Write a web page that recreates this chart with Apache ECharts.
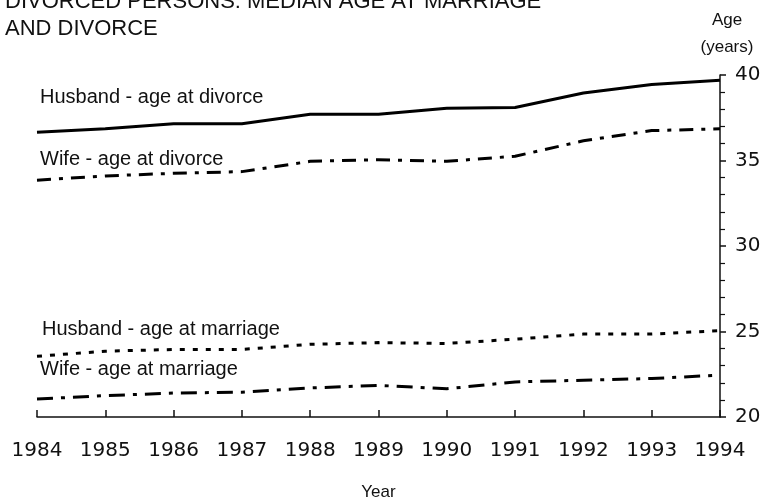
<!DOCTYPE html>
<html>
<head>
<meta charset="utf-8">
<script src="https://cdn.jsdelivr.net/npm/echarts@6/dist/echarts.min.js"></script>
<style>
  html, body { margin: 0; padding: 0; background: #fff; }
  #chart { width: 760px; height: 500px; }
</style>
</head>
<body>
<div id="chart"></div>
<script>
  var years = ['1984', '1985', '1986', '1987', '1988', '1989', '1990', '1991', '1992', '1993', '1994'];
  var husbandDivorce = [36.65, 36.85, 37.15, 37.15, 37.7, 37.7, 38.05, 38.1, 38.95, 39.45, 39.7];
  var wifeDivorce = [33.85, 34.1, 34.25, 34.35, 34.95, 35.05, 34.95, 35.25, 36.15, 36.75, 36.85];
  var husbandMarriage = [23.55, 23.85, 23.95, 23.95, 24.25, 24.35, 24.3, 24.55, 24.85, 24.85, 25.05];
  var wifeMarriage = [21.05, 21.25, 21.4, 21.45, 21.7, 21.85, 21.65, 22.05, 22.15, 22.25, 22.45];
  var seriesNames = ['Husband - age at divorce', 'Wife - age at divorce', 'Husband - age at marriage', 'Wife - age at marriage'];

  var font = '"Liberation Sans", Arial, sans-serif';
  var chart = echarts.init(document.getElementById('chart'));

  chart.setOption({
    animation: false,
    backgroundColor: '#fff',
    title: {
      text: 'DIVORCED PERSONS: MEDIAN AGE AT MARRIAGE\nAND DIVORCE',
      left: 0,
      top: -17,
      textStyle: { fontFamily: font, fontSize: 22, fontWeight: 'normal', color: '#111', lineHeight: 27 }
    },
    grid: { left: 37, right: 40, top: 75, bottom: 83, containLabel: false, outerBoundsMode: 'none' },
    xAxis: {
      type: 'category',
      data: years,
      boundaryGap: false,
      name: 'Year',
      nameLocation: 'middle',
      nameGap: 67,
      nameTextStyle: { fontFamily: font, fontSize: 17, color: '#111' },
      axisLine: { lineStyle: { color: '#111', width: 1.5 } },
      axisTick: { inside: true, length: 7, lineStyle: { color: '#111', width: 1.5 } },
      axisLabel: { margin: 24, fontFamily: '"DejaVu Sans", sans-serif', fontSize: 20, color: '#111' },
      splitLine: { show: false }
    },
    yAxis: {
      type: 'value',
      position: 'right',
      min: 20,
      max: 40,
      interval: 5,
      name: 'Age\n(years)',
      nameLocation: 'end',
      nameGap: 14,
      nameTextStyle: { fontFamily: font, fontSize: 17, color: '#111', lineHeight: 27, align: 'center', padding: [0, 0, 0, 14] },
      axisLine: { show: true, lineStyle: { color: '#111', width: 1.5 } },
      axisTick: { show: true, length: 6, lineStyle: { color: '#111', width: 1.5 } },
      minorTick: { show: true, splitNumber: 5, length: 5, lineStyle: { color: '#111', width: 1.2 } },
      axisLabel: { margin: 15, fontFamily: '"DejaVu Sans", sans-serif', fontSize: 20, color: '#111' },
      splitLine: { show: false }
    },
    graphic: [
      { type: 'text', left: 40, top: 87, style: { text: seriesNames[0], font: '20px ' + font, fill: '#111' } },
      { type: 'text', left: 40, top: 149, style: { text: seriesNames[1], font: '20px ' + font, fill: '#111' } },
      { type: 'text', left: 42, top: 319, style: { text: seriesNames[2], font: '20px ' + font, fill: '#111' } },
      { type: 'text', left: 40, top: 359, style: { text: seriesNames[3], font: '20px ' + font, fill: '#111' } }
    ],
    series: [
      {
        name: seriesNames[0], type: 'line', data: husbandDivorce, symbol: 'none',
        lineStyle: { color: '#000', width: 3, type: 'solid' }
      },
      {
        name: seriesNames[1], type: 'line', data: wifeDivorce, symbol: 'none',
        lineStyle: { color: '#000', width: 3, type: [14, 8, 4, 8] }
      },
      {
        name: seriesNames[2], type: 'line', data: husbandMarriage, symbol: 'none',
        lineStyle: { color: '#000', width: 3, type: [5, 8] }
      },
      {
        name: seriesNames[3], type: 'line', data: wifeMarriage, symbol: 'none',
        lineStyle: { color: '#000', width: 3, type: [16, 8, 4, 8] }
      }
    ]
  });
</script>
</body>
</html>
